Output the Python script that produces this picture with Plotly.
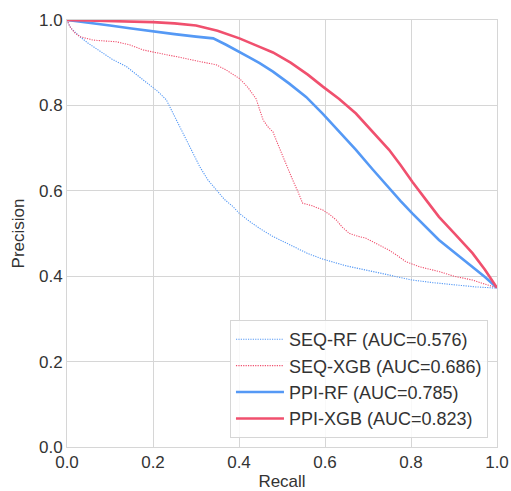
import plotly.graph_objects as go

# SEQ-RF
seq_rf_recall = [0.0, 0.004, 0.010, 0.020, 0.030, 0.050, 0.077, 0.105, 0.138, 0.165, 0.193, 0.212, 0.231, 0.250, 0.270, 0.290, 0.309, 0.328, 0.347, 0.366, 0.386, 0.401, 0.425, 0.448, 0.479, 0.520, 0.560, 0.595, 0.650, 0.711, 0.760, 0.803, 0.850, 0.904, 0.950, 1.0]
seq_rf_prec   = [1.0, 0.990, 0.980, 0.970, 0.961, 0.945, 0.926, 0.908, 0.891, 0.870, 0.848, 0.832, 0.813, 0.775, 0.735, 0.695, 0.656, 0.625, 0.602, 0.580, 0.563, 0.547, 0.528, 0.512, 0.493, 0.472, 0.453, 0.440, 0.424, 0.411, 0.400, 0.391, 0.385, 0.379, 0.375, 0.372]

# SEQ-XGB
seq_xgb_recall = [0.0, 0.007, 0.018, 0.030, 0.045, 0.061, 0.085, 0.115, 0.145, 0.177, 0.205, 0.231, 0.260, 0.293, 0.320, 0.347, 0.370, 0.394, 0.401, 0.420, 0.440, 0.448, 0.456, 0.467, 0.479, 0.490, 0.502, 0.514, 0.525, 0.537, 0.548, 0.570, 0.595, 0.610, 0.626, 0.640, 0.657, 0.675, 0.695, 0.720, 0.749, 0.770, 0.788, 0.820, 0.865, 0.900, 0.943, 0.970, 1.0]
seq_xgb_prec   = [1.0, 0.984, 0.970, 0.961, 0.957, 0.953, 0.951, 0.949, 0.942, 0.930, 0.924, 0.918, 0.913, 0.906, 0.901, 0.895, 0.883, 0.867, 0.863, 0.843, 0.815, 0.790, 0.766, 0.750, 0.738, 0.710, 0.680, 0.652, 0.625, 0.598, 0.571, 0.565, 0.555, 0.545, 0.532, 0.515, 0.500, 0.494, 0.489, 0.476, 0.461, 0.447, 0.434, 0.422, 0.411, 0.400, 0.391, 0.382, 0.373]

# PPI-RF
ppi_rf_recall = [0.0, 0.05, 0.10, 0.15, 0.20, 0.25, 0.30, 0.34, 0.370, 0.401, 0.425, 0.448, 0.479, 0.517, 0.556, 0.595, 0.633, 0.672, 0.710, 0.749, 0.776, 0.803, 0.834, 0.865, 0.904, 0.943, 0.972, 1.0]
ppi_rf_prec   = [1.0, 0.994, 0.987, 0.980, 0.973, 0.967, 0.961, 0.957, 0.942, 0.926, 0.912, 0.899, 0.879, 0.851, 0.820, 0.780, 0.738, 0.696, 0.651, 0.606, 0.576, 0.547, 0.516, 0.485, 0.453, 0.422, 0.398, 0.373]

# PPI-XGB
ppi_xgb_recall = [0.0, 0.05, 0.10, 0.15, 0.20, 0.25, 0.30, 0.350, 0.401, 0.448, 0.479, 0.520, 0.560, 0.595, 0.633, 0.672, 0.710, 0.749, 0.776, 0.803, 0.834, 0.865, 0.904, 0.943, 0.972, 1.0]
ppi_xgb_prec   = [1.0, 0.999, 0.998, 0.997, 0.995, 0.992, 0.987, 0.975, 0.957, 0.937, 0.924, 0.900, 0.872, 0.844, 0.815, 0.781, 0.740, 0.696, 0.660, 0.621, 0.580, 0.539, 0.497, 0.454, 0.415, 0.373]

labels = ["SEQ-RF (AUC=0.576)", "SEQ-XGB (AUC=0.686)", "PPI-RF (AUC=0.785)", "PPI-XGB (AUC=0.823)"]
x_ticks = [0.0, 0.2, 0.4, 0.6, 0.8, 1.0]
y_ticks = [0.0, 0.2, 0.4, 0.6, 0.8, 1.0]

BLUE = "#5599f5"
RED = "#f0506e"
TXT = "#333333"
GRID = "#d6d6d6"

fig = go.Figure()
fig.add_trace(go.Scatter(x=seq_rf_recall, y=seq_rf_prec, mode="lines", name=labels[0],
                         line=dict(color=BLUE, width=1.1, dash="1.2px,1.2px")))
fig.add_trace(go.Scatter(x=seq_xgb_recall, y=seq_xgb_prec, mode="lines", name=labels[1],
                         line=dict(color=RED, width=1.1, dash="1.2px,1.2px")))
fig.add_trace(go.Scatter(x=ppi_rf_recall, y=ppi_rf_prec, mode="lines", name=labels[2],
                         line=dict(color=BLUE, width=2.6)))
fig.add_trace(go.Scatter(x=ppi_xgb_recall, y=ppi_xgb_prec, mode="lines", name=labels[3],
                         line=dict(color=RED, width=2.6)))

axis_common = dict(
    showgrid=True, gridcolor=GRID, gridwidth=1,
    showline=True, linecolor=GRID, linewidth=1, mirror=True,
    zeroline=False, ticks="", tickfont=dict(size=17, color=TXT),
    tickformat=".1f", automargin=False,
)

fig.update_layout(
    width=511, height=491,
    margin=dict(l=67, r=14, t=20, b=44, autoexpand=False),
    paper_bgcolor="white", plot_bgcolor="white",
    font=dict(family="Liberation Sans, Arial, sans-serif", color=TXT),
    xaxis=dict(range=[0, 1], tickvals=x_ticks,
               title=dict(text="Recall", font=dict(size=17, color=TXT), standoff=4),
               **axis_common),
    yaxis=dict(range=[0, 1], tickvals=y_ticks,
               title=dict(text="Precision", font=dict(size=17, color=TXT), standoff=10),
               **axis_common),
    legend=dict(x=0.979, y=0.021, xanchor="right", yanchor="bottom",
                bgcolor="rgba(255,255,255,0.85)", bordercolor=GRID, borderwidth=1,
                font=dict(size=18, color=TXT), tracegroupgap=0, itemwidth=48),
    showlegend=True,
)

fig.write_html("out.html",
               config={"displayModeBar": False},
               post_script="document.body.style.margin='0';document.body.style.overflow='hidden';")
